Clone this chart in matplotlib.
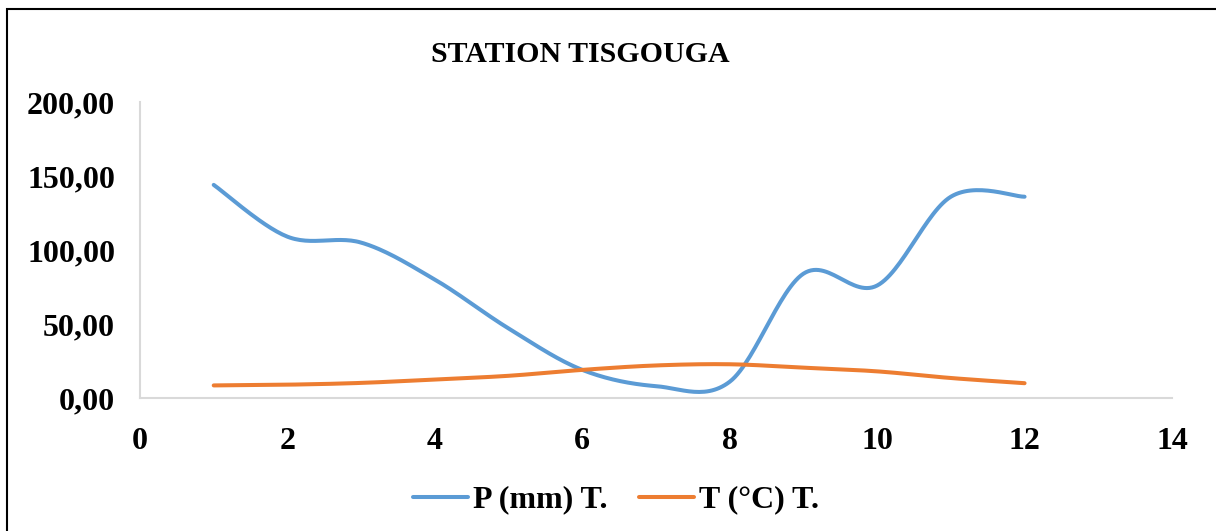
import numpy as np
import matplotlib.pyplot as plt
from matplotlib.patches import Rectangle

months = [1, 2, 3, 4, 5, 6, 7, 8, 9, 10, 11, 12]
precip = [144, 109, 105, 80, 47, 19, 8, 11, 84, 76, 136, 136]
temp = [8.5, 9, 10.2, 12.5, 15, 19, 22, 22.8, 20.5, 18, 13.5, 10]
y_ticks = [0, 50, 100, 150, 200]
x_ticks = [0, 2, 4, 6, 8, 10, 12, 14]


def smooth(x, y, n=30):
    # excel style smoothed line (catmull-rom between the points)
    x = np.asarray(x, float)
    y = np.asarray(y, float)
    px = np.concatenate([[x[0]], x, [x[-1]]])
    py = np.concatenate([[y[0]], y, [y[-1]]])
    xs, ys = [], []
    for i in range(1, len(px) - 2):
        t = np.linspace(0, 1, n)
        for p, out in ((px, xs), (py, ys)):
            p0, p1, p2, p3 = p[i - 1], p[i], p[i + 1], p[i + 2]
            c1 = p1 + (p2 - p0) / 6
            c2 = p2 - (p3 - p1) / 6
            out.extend((1 - t) ** 3 * p1 + 3 * (1 - t) ** 2 * t * c1
                       + 3 * (1 - t) * t ** 2 * c2 + t ** 3 * p2)
    return xs, ys


plt.rcParams['font.family'] = ['Liberation Serif', 'DejaVu Serif']
plt.rcParams['font.weight'] = 'bold'

fig = plt.figure(figsize=(12.16, 5.31), dpi=100)
ax = fig.add_axes([140 / 1216, 133 / 531, 1032 / 1216, 296 / 531])

bx, by = smooth(months, precip)
ox, oy = smooth(months, temp)
ax.plot(bx, by, color='#5B9BD5', lw=2.9, solid_capstyle='round', label='P (mm) T.', clip_on=False)
ax.plot(ox, oy, color='#ED7D31', lw=2.9, solid_capstyle='round', label='T (°C) T.', clip_on=False)

ax.set_xlim(0, 14)
ax.set_ylim(0, 200)
ax.set_xticks(x_ticks)
ax.set_yticks(y_ticks)
ax.set_yticklabels(['{:.2f}'.format(v).replace('.', ',') for v in y_ticks])
ax.tick_params(length=0, labelsize=23)
ax.tick_params(axis='y', pad=18)
ax.tick_params(axis='x', pad=21)
for lab in ax.get_xticklabels() + ax.get_yticklabels():
    lab.set_fontweight('bold')

for s in ['top', 'right']:
    ax.spines[s].set_visible(False)
for s in ['left', 'bottom']:
    ax.spines[s].set_color('#D9D9D9')
    ax.spines[s].set_linewidth(1.5)

fig.text(580 / 1216, 1 - 55 / 531, 'STATION TISGOUGA', ha='center', va='center',
         fontsize=21.5, fontweight='bold')

fig.legend(loc='center', bbox_to_anchor=(616 / 1216, 31 / 531), ncol=2, frameon=False,
           prop={'size': 23, 'weight': 'bold'}, handlelength=1.72,
           handletextpad=0.15, columnspacing=1.0)

fig.patches.append(Rectangle((7 / 1216, -0.1), 1.2, 1 - 9 / 531 + 0.1,
                             transform=fig.transFigure, fill=False,
                             edgecolor='black', lw=1.5))

plt.savefig('out.png', dpi=100)
